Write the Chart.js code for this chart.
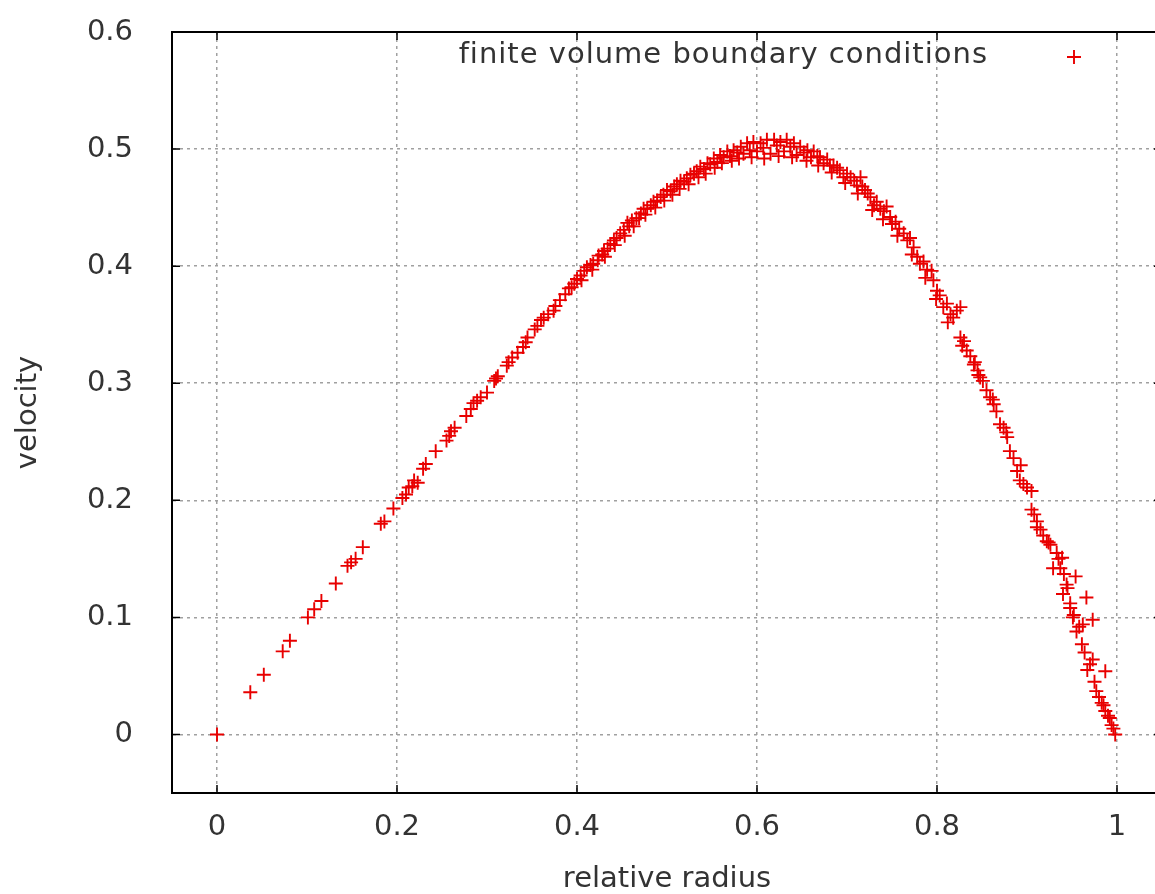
<!DOCTYPE html>
<html>
<head>
<meta charset="utf-8">
<script src="https://cdn.jsdelivr.net/npm/chart.js@4.4.1/dist/chart.umd.min.js"></script>
<style>
  html, body { margin: 0; padding: 0; background: #fff; overflow: hidden; }
  #wrap { width: 1175px; height: 894px; }
</style>
</head>
<body>
<div id="wrap"><canvas id="velocityChart"></canvas></div>
<script>
const seriesLabel = "finite volume boundary conditions";

// relative radius (x) and velocity (y), same order
const radius = [
  0, 0.037, 0.052, 0.073, 0.081, 0.101, 0.108, 0.116, 0.132, 0.145,
  0.149, 0.154, 0.162, 0.182, 0.186, 0.196, 0.206, 0.210, 0.213, 0.217,
  0.219, 0.223, 0.229, 0.232, 0.243, 0.255, 0.258, 0.260, 0.264, 0.277,
  0.282, 0.285, 0.289, 0.293, 0.300, 0.308, 0.310, 0.312, 0.322, 0.324,
  0.328, 0.334, 0.340, 0.343, 0.345, 0.353, 0.356, 0.360, 0.363, 0.368,
  0.374, 0.376, 0.381, 0.387, 0.391, 0.394, 0.397, 0.400, 0.404, 0.408,
  0.411, 0.415, 0.418, 0.423, 0.424, 0.428, 0.430, 0.434, 0.437, 0.441,
  0.444, 0.448, 0.452, 0.456, 0.458, 0.461, 0.466, 0.471, 0.474, 0.478,
  0.482, 0.485, 0.489, 0.493, 0.496, 0.500, 0.504, 0.508, 0.511, 0.515,
  0.519, 0.522, 0.526, 0.530, 0.533, 0.537, 0.541, 0.545, 0.548, 0.552,
  0.556, 0.559, 0.563, 0.567, 0.570, 0.574, 0.578, 0.582, 0.585, 0.589,
  0.592, 0.596, 0.600, 0.604, 0.607, 0.611, 0.615, 0.619, 0.622, 0.626,
  0.630, 0.633, 0.637, 0.641, 0.644, 0.648, 0.652, 0.656, 0.660, 0.663,
  0.667, 0.670, 0.674, 0.678, 0.681, 0.685, 0.689, 0.692, 0.696, 0.700,
  0.704, 0.708, 0.711, 0.715, 0.717, 0.720, 0.723, 0.726, 0.730, 0.733,
  0.737, 0.741, 0.744, 0.748, 0.750, 0.754, 0.758, 0.763, 0.767, 0.770,
  0.774, 0.778, 0.781, 0.785, 0.789, 0.794, 0.796, 0.800, 0.803, 0.807,
  0.811, 0.815, 0.818, 0.822, 0.826, 0.826, 0.830, 0.833, 0.837, 0.841,
  0.842, 0.845, 0.848, 0.851, 0.855, 0.859, 0.863, 0.866, 0.870, 0.874,
  0.878, 0.881, 0.885, 0.889, 0.892, 0.896, 0.900, 0.905, 0.905, 0.908,
  0.911, 0.911, 0.915, 0.918, 0.922, 0.924, 0.926, 0.929, 0.933, 0.935,
  0.937, 0.939, 0.940, 0.941, 0.944, 0.945, 0.948, 0.948, 0.951, 0.952,
  0.954, 0.955, 0.958, 0.961, 0.962, 0.964, 0.966, 0.967, 0.970, 0.973,
  0.973, 0.975, 0.977, 0.980, 0.983, 0.985, 0.987, 0.987, 0.990, 0.992,
  0.994, 0.996, 0.998,
  // lower / outer edge of the thick band
  0.405, 0.417, 0.431, 0.442, 0.453, 0.463, 0.469, 0.476, 0.487, 0.497,
  0.506, 0.514, 0.524, 0.535, 0.543, 0.553, 0.561, 0.572, 0.580, 0.594,
  0.608, 0.624, 0.639, 0.655, 0.668, 0.683, 0.698, 0.712, 0.728, 0.740,
  0.756, 0.772, 0.787, 0.799, 0.812, 0.828, 0.846, 0.862, 0.877, 0.893
];
const velocity = [
  0, 0.036, 0.051, 0.071, 0.080, 0.100, 0.107, 0.114, 0.129, 0.144,
  0.147, 0.150, 0.160, 0.180, 0.182, 0.193, 0.202, 0.205, 0.211, 0.212,
  0.217, 0.215, 0.227, 0.231, 0.242, 0.251, 0.255, 0.259, 0.262, 0.272,
  0.278, 0.283, 0.285, 0.288, 0.292, 0.302, 0.304, 0.306, 0.315, 0.318,
  0.322, 0.326, 0.331, 0.335, 0.339, 0.346, 0.349, 0.354, 0.356, 0.359,
  0.362, 0.366, 0.371, 0.376, 0.381, 0.382, 0.385, 0.389, 0.392, 0.396,
  0.399, 0.401, 0.402, 0.405, 0.409, 0.410, 0.413, 0.415, 0.419, 0.422,
  0.424, 0.428, 0.431, 0.437, 0.434, 0.439, 0.441, 0.445, 0.449, 0.449,
  0.452, 0.455, 0.456, 0.459, 0.461, 0.465, 0.464, 0.468, 0.470, 0.473,
  0.472, 0.475, 0.478, 0.479, 0.481, 0.485, 0.483, 0.488, 0.487, 0.492,
  0.489, 0.495, 0.493, 0.498, 0.494, 0.499, 0.497, 0.502, 0.496, 0.505,
  0.499, 0.506, 0.498, 0.505, 0.501, 0.508, 0.496, 0.508, 0.503, 0.506,
  0.498, 0.508, 0.502, 0.505, 0.495, 0.502, 0.497, 0.499, 0.493, 0.498,
  0.494, 0.493, 0.488, 0.491, 0.486, 0.486, 0.484, 0.482, 0.476, 0.479,
  0.476, 0.473, 0.469, 0.476, 0.468, 0.465, 0.462, 0.459, 0.452, 0.455,
  0.449, 0.447, 0.451, 0.442, 0.436, 0.438, 0.432, 0.428, 0.422, 0.424,
  0.416, 0.408, 0.402, 0.404, 0.397, 0.396, 0.388, 0.379, 0.375, 0.365,
  0.368, 0.359, 0.356, 0.362, 0.365, 0.339, 0.336, 0.328, 0.323, 0.316,
  0.318, 0.311, 0.305, 0.302, 0.294, 0.288, 0.282, 0.276, 0.265, 0.262,
  0.254, 0.242, 0.236, 0.225, 0.217, 0.214, 0.211, 0.208, 0.192, 0.188,
  0.182, 0.177, 0.175, 0.170, 0.165, 0.164, 0.162, 0.142, 0.155, 0.150,
  0.142, 0.151, 0.120, 0.137, 0.128, 0.125, 0.108, 0.112, 0.100, 0.102,
  0.135, 0.088, 0.092, 0.077, 0.094, 0.070, 0.117, 0.055, 0.060, 0.098,
  0.064, 0.045, 0.037, 0.032, 0.027, 0.025, 0.054, 0.020, 0.016, 0.014,
  0.008, 0.005, 0.000,
  // lower / outer edge of the thick band
  0.388, 0.397, 0.408, 0.418, 0.426, 0.434, 0.441, 0.444, 0.450, 0.456,
  0.461, 0.466, 0.470, 0.476, 0.479, 0.484, 0.488, 0.490, 0.492, 0.493,
  0.492, 0.494, 0.493, 0.490, 0.486, 0.480, 0.471, 0.462, 0.448, 0.440,
  0.426, 0.410, 0.390, 0.372, 0.352, 0.332, 0.307, 0.286, 0.258, 0.230
];

const xTicks = [0, 0.2, 0.4, 0.6, 0.8, 1];
const yTicks = [0, 0.1, 0.2, 0.3, 0.4, 0.5, 0.6];

const fontFamily = "'DejaVu Sans', sans-serif";
const textColor = "#333";
const markColor = "#e80000";

// gnuplot look: full border box and short inward ticks
const framePlugin = {
  id: "frame",
  afterDraw(chart) {
    const { ctx, chartArea: a, scales } = chart;
    ctx.save();
    ctx.strokeStyle = "#000";
    ctx.lineWidth = 2;
    ctx.strokeRect(a.left, a.top, a.right - a.left, a.bottom - a.top);
    ctx.lineWidth = 1.5;
    ctx.beginPath();
    xTicks.forEach((v) => {
      const x = scales.x.getPixelForValue(v);
      ctx.moveTo(x, a.bottom);
      ctx.lineTo(x, a.bottom - 8);
      ctx.moveTo(x, a.top);
      ctx.lineTo(x, a.top + 8);
    });
    yTicks.forEach((v) => {
      const y = scales.y.getPixelForValue(v);
      ctx.moveTo(a.left, y);
      ctx.lineTo(a.left + 8, y);
      ctx.moveTo(a.right, y);
      ctx.lineTo(a.right - 8, y);
    });
    ctx.stroke();
    ctx.restore();
  },
};

// key in the top right corner, text first then the sample mark
const keyPlugin = {
  id: "key",
  afterDraw(chart) {
    const { ctx, chartArea: a } = chart;
    const ds = chart.data.datasets[0];
    const y = a.top + 23;
    ctx.save();
    ctx.font = "29px " + fontFamily;
    ctx.letterSpacing = "1px";
    ctx.fillStyle = textColor;
    ctx.textAlign = "right";
    ctx.textBaseline = "middle";
    ctx.fillText(ds.label, a.right - 174, y);
    ctx.strokeStyle = ds.borderColor;
    ctx.lineWidth = ds.borderWidth;
    Chart.helpers.drawPoint(
      ctx,
      { pointStyle: "cross", radius: ds.pointRadius, rotation: 0, borderWidth: ds.borderWidth },
      a.right - 88,
      y + 2,
    );
    ctx.restore();
  },
};

new Chart(document.getElementById("velocityChart"), {
  type: "scatter",
  data: {
    datasets: [
      {
        label: seriesLabel,
        data: radius.map((r, i) => ({ x: r, y: velocity[i] })),
        pointStyle: "cross",
        pointRadius: 7,
        borderColor: markColor,
        backgroundColor: markColor,
        borderWidth: 1.9,
      },
    ],
  },
  options: {
    responsive: true,
    maintainAspectRatio: false,
    animation: false,
    layout: { padding: { left: 0, top: 32, right: 13, bottom: 0 } },
    plugins: { legend: { display: false }, tooltip: { enabled: false } },
    scales: {
      x: {
        type: "linear",
        min: -0.05,
        max: 1.05,
        afterBuildTicks: (s) => { s.ticks = xTicks.map((v) => ({ value: v })); },
        afterFit: (s) => {
          s.height = 101;
          s.paddingLeft = 0;
          s.paddingRight = 0;
        },
        ticks: {
          font: { family: fontFamily, size: 29 },
          color: textColor,
          padding: 17,
          maxRotation: 0,
          autoSkip: false,
          callback: (v) => String(v),
        },
        grid: { color: "#a0a0a0", lineWidth: 1.5, drawTicks: false },
        border: { color: "#000", width: 2, dash: [3, 4] },
        title: {
          display: true,
          text: "relative radius",
          color: textColor,
          font: { family: fontFamily, size: 29, lineHeight: 1 },
          padding: { top: 0, bottom: 0 },
        },
      },
      y: {
        type: "linear",
        min: -0.05,
        max: 0.6,
        afterBuildTicks: (s) => { s.ticks = yTicks.map((v) => ({ value: v })); },
        afterFit: (s) => {
          s.width = 172;
          s.paddingTop = 0;
          s.paddingBottom = 0;
        },
        ticks: {
          font: { family: fontFamily, size: 29 },
          color: textColor,
          padding: 39,
          autoSkip: false,
          callback: (v) => String(v),
        },
        grid: { color: "#a0a0a0", lineWidth: 1.5, drawTicks: false },
        border: { color: "#000", width: 2, dash: [3, 4] },
        title: {
          display: true,
          text: "velocity",
          color: textColor,
          font: { family: fontFamily, size: 29, lineHeight: 1 },
          padding: { top: 14, bottom: 0 },
        },
      },
    },
  },
  plugins: [framePlugin, keyPlugin],
});
</script>
</body>
</html>
